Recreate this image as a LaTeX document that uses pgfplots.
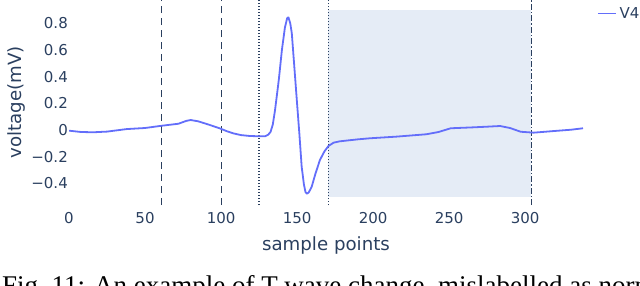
\documentclass[border=0pt]{standalone}
\usepackage{pgfplots}
\pgfplotsset{compat=1.18}
\usepackage{fontspec}
\setmainfont{DejaVu Sans}
\newfontfamily\capfont{Liberation Serif}
\definecolor{txt}{HTML}{2A3F5F}
\definecolor{trace}{HTML}{636EFA}
\definecolor{shade}{HTML}{E5ECF6}
\definecolor{vline}{HTML}{2A3F5F}

\pgfplotstableread{
t v
0 -0.005
8 -0.015
16 -0.017
25 -0.012
38 0.007
50 0.015
61 0.032
72 0.047
77 0.068
80 0.075
85 0.065
92 0.04
99 0.013
104 -0.01
108 -0.025
113 -0.038
119 -0.045
125 -0.047
129 -0.047
131 -0.035
132.5 -0.015
134 0.04
135.5 0.15
138 0.38
140 0.60
142 0.77
143.5 0.84
144.3 0.845
145.5 0.80
146.5 0.727
148 0.50
149.8 0.225
151.5 -0.03
153 -0.275
154.5 -0.41
155.5 -0.465
156.4 -0.478
157.5 -0.47
158.5 -0.45
159.6 -0.425
162 -0.33
165 -0.225
168 -0.16
170.6 -0.12
174 -0.095
178 -0.085
190 -0.07
198 -0.062
215 -0.05
235 -0.032
243 -0.015
251 0.013
266 0.02
275 0.025
283.5 0.03
290 0.015
297 -0.013
305.5 -0.02
318.6 -0.008
330 0.002
338 0.013
}\ecg

\begin{document}
\begin{tikzpicture}[x=1pt,y=1pt]
\useasboundingbox (0,0) rectangle (640,285);
\begin{axis}[
  at={(69pt,80pt)}, anchor=south west,
  scale only axis, width=514pt, height=205pt,
  xmin=0, xmax=338, ymin=-0.5625, ymax=0.975,
  axis line style={draw=none}, major tick length=0pt,
  xtick={0,50,100,150,200,250,300},
  xticklabels={0,50,100,150,200,250,300},
  ytick={-0.4,-0.2,0,0.2,0.4,0.6,0.8},
  yticklabels={−0.4,−0.2,0,0.2,0.4,0.6,0.8},
  tick label style={font=\fontsize{15}{18}\selectfont, text=txt},
  yticklabel style={anchor=east, inner sep=0pt, xshift=-1pt},
  xticklabel style={anchor=north, inner sep=0pt, yshift=-6.7pt},
  legend image code/.code={\draw[#1] (0pt,0pt) -- (18pt,0pt);},
  legend style={at={(axis description cs:1.027,0.934)}, anchor=west,
    draw=none, fill=none, inner sep=0pt, outer sep=0pt,
    font=\fontsize{15}{18}\selectfont, text=txt,
    nodes={inner sep=0pt}, column sep=3pt},
]
\addplot[fill=shade, draw=none, forget plot] coordinates {(170.5,-0.5) (304,-0.5) (304,0.9) (170.5,0.9)} -- cycle;
\addplot[vline, line width=1.1pt, dash pattern=on 7pt off 5pt, forget plot] coordinates {(61,-0.5625) (61,0.975)};
\addplot[vline, line width=1.1pt, dash pattern=on 7pt off 5pt, forget plot] coordinates {(100,-0.5625) (100,0.975)};
\addplot[vline, line width=1.4pt, dash pattern=on 1.4pt off 1.6pt, forget plot] coordinates {(125,-0.5625) (125,0.975)};
\addplot[vline, line width=1.4pt, dash pattern=on 1.4pt off 1.6pt, forget plot] coordinates {(170.5,-0.5625) (170.5,0.975)};
\addplot[vline, line width=1.2pt, dash pattern=on 6pt off 2pt on 1.5pt off 2pt, forget plot] coordinates {(304,-0.5625) (304,0.975)};
\addplot[trace, line width=1.8pt, line join=round] table[x=t, y=v] {\ecg};
\addlegendentry{V4}
\end{axis}
\node[rotate=90, anchor=base, text=txt, font=\fontsize{18.2}{20}\selectfont] at (21,182.5) {voltage(mV)};
\node[anchor=base, text=txt, font=\fontsize{18.2}{20}\selectfont] at (326,35) {sample points};
\begin{scope}
\clip (0,0) rectangle (640,285);
\node[anchor=base west, inner sep=0pt, font=\capfont\fontsize{27}{30}\selectfont] at (2,-9) {Fig.~11: An example of T-wave change, mislabelled as normal.};
\end{scope}
\end{tikzpicture}
\end{document}
